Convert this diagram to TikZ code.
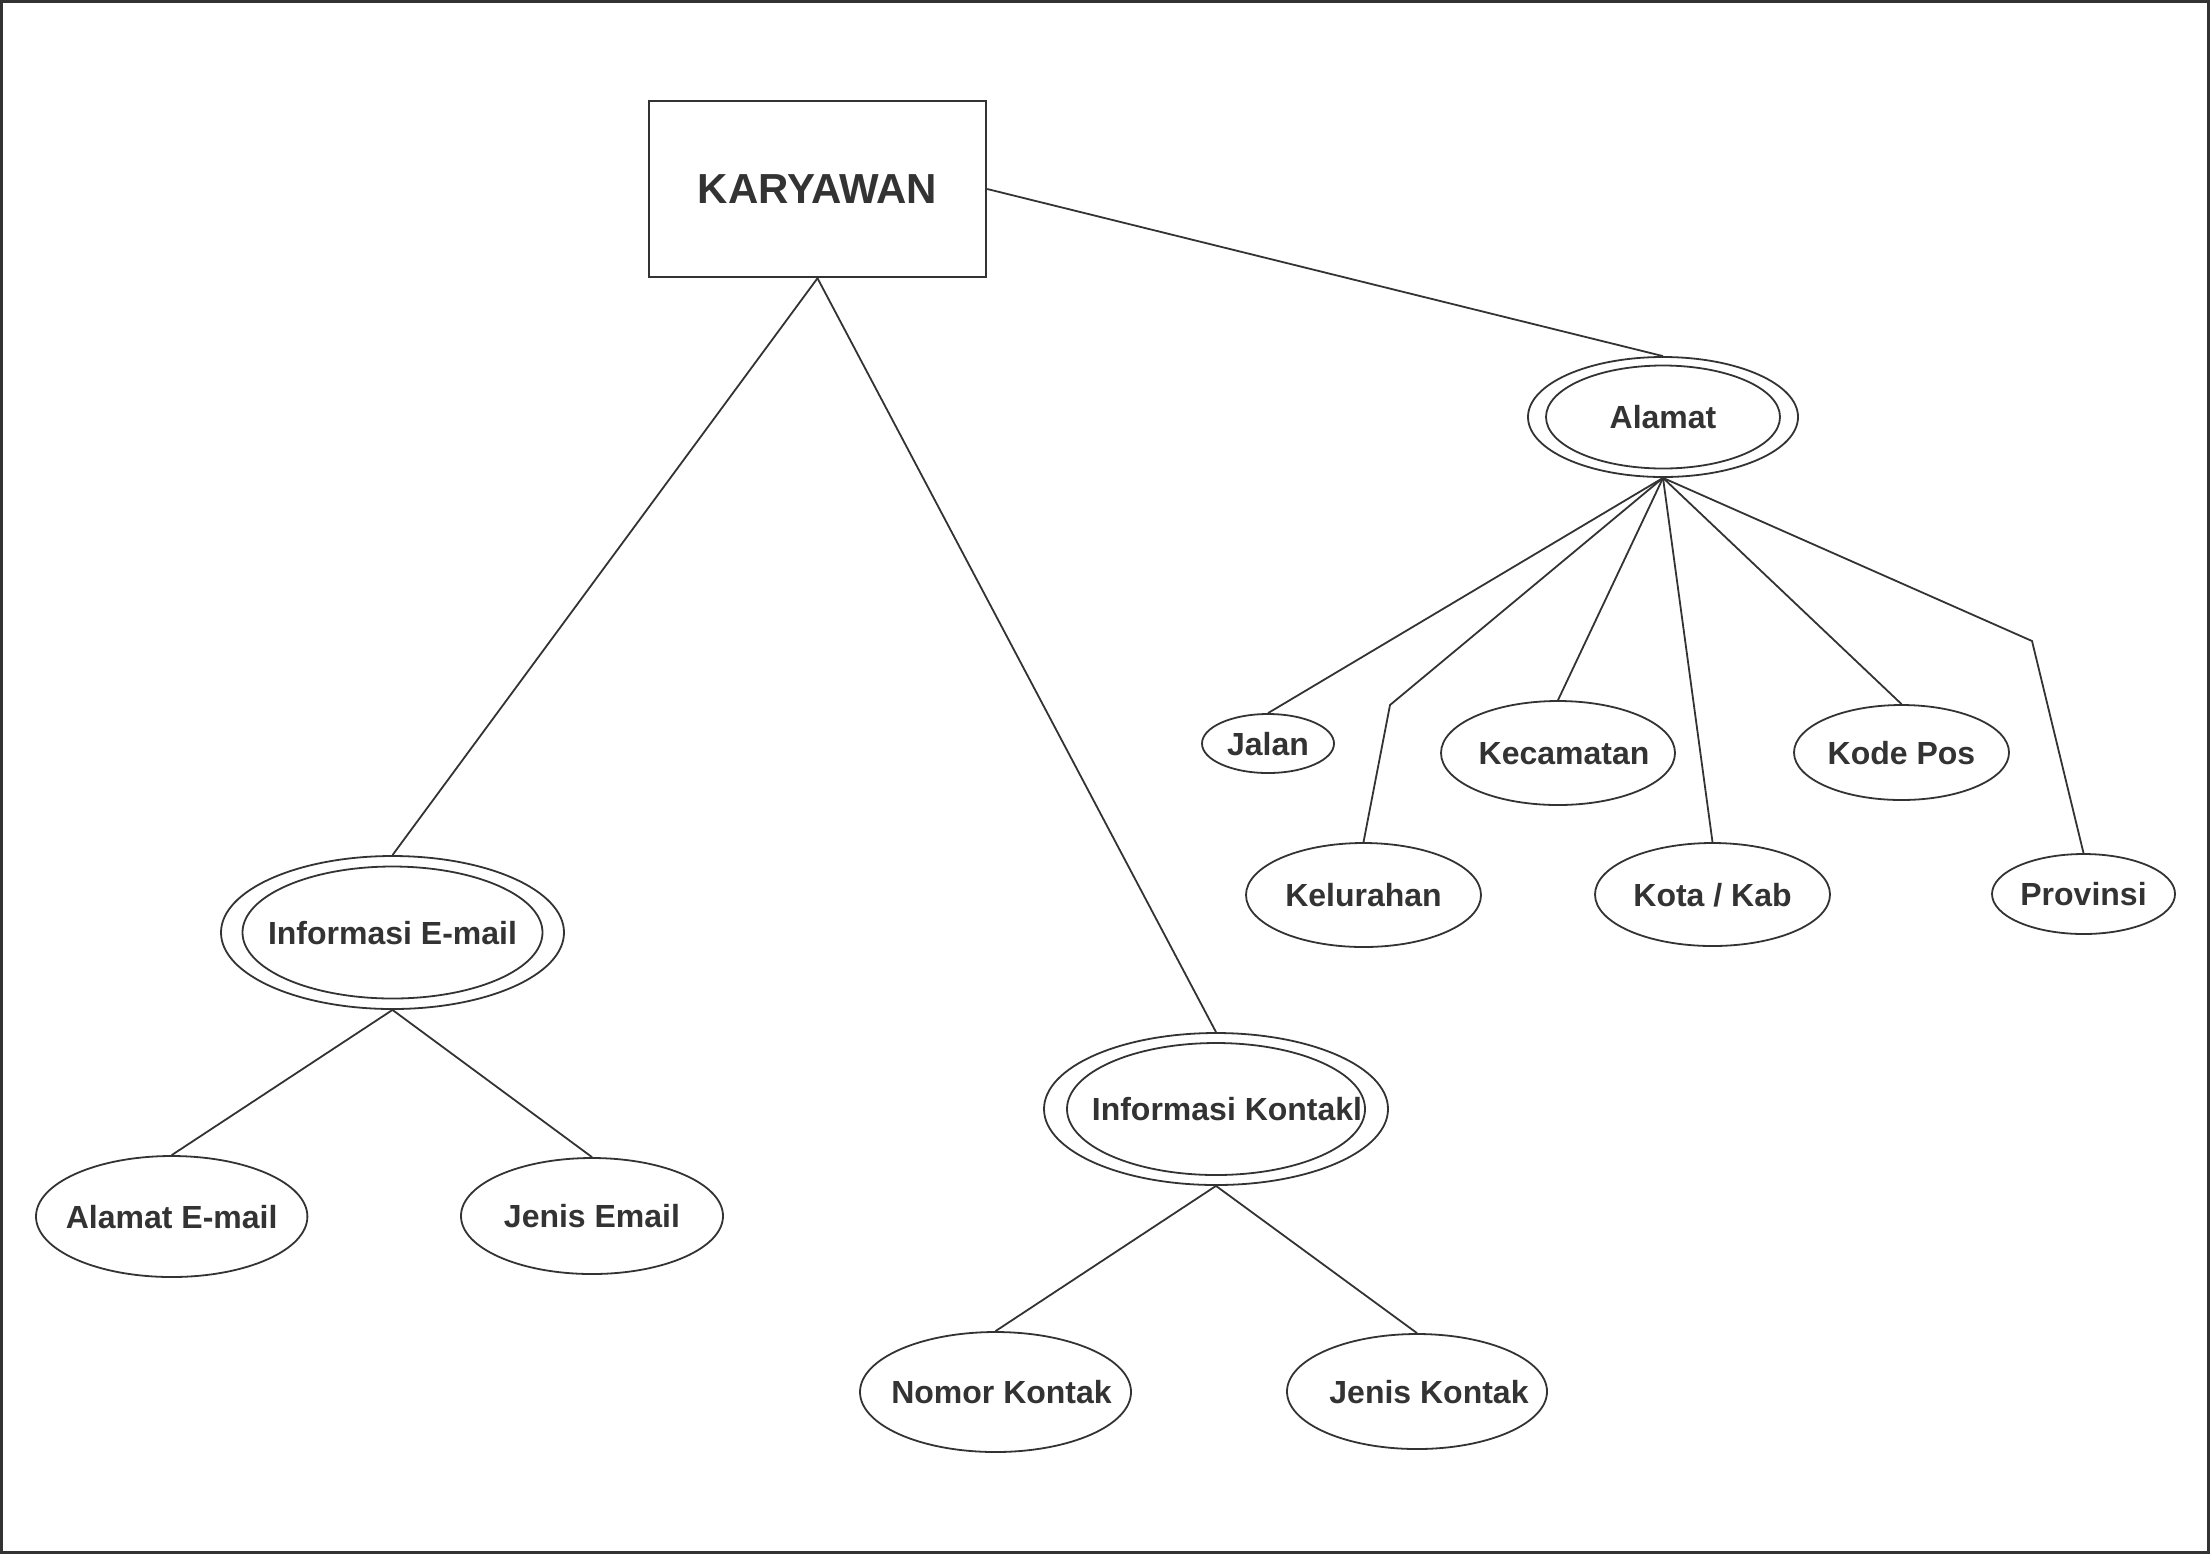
\documentclass[tikz,border=0pt]{standalone}
\usepackage{fontspec}
\setmainfont{Liberation Sans}
\usetikzlibrary{shapes.geometric}
\definecolor{ink}{HTML}{333333}
\newcommand\zlbl[2][0pt]{\makebox[0pt]{\hspace*{#1}#2}}
\begin{document}
\begin{tikzpicture}[x=0.5pt,y=-0.5pt,
  every node/.style={font=\bfseries\fontsize{16}{19}\selectfont, text=ink},
  ent/.style={draw=ink, line width=1.2pt, rectangle, minimum width=168.5pt, minimum height=88pt, inner sep=0pt, font=\bfseries\fontsize{21}{24}\selectfont},
  attr/.style={draw=ink, line width=0.9pt, ellipse, inner sep=0pt, text height=11.5pt, text depth=0pt},
  innerell/.style={draw=ink, line width=0.9pt, ellipse, inner sep=0pt},
  link/.style={draw=ink, line width=0.9pt}
]
\useasboundingbox (0,0) rectangle (2210,1554);
\draw[ink, line width=1.3pt] (1.5,1.5) rectangle (2208.5,1552.5);

% entity
\node[ent] (kar) at (817.5,189) {KARYAWAN};

% multivalued / composite attributes
\node[attr, minimum width=135pt, minimum height=60pt] (alamat) at (1663,417) {\zlbl{Alamat}};
\node[innerell, minimum width=117pt, minimum height=51.5pt] (alamatin) at (alamat) {};

\node[attr, minimum width=171.5pt, minimum height=76.5pt] (ie) at (392.5,932.5) {\zlbl{Informasi E-mail}};
\node[innerell, minimum width=150pt, minimum height=66pt] (iein) at (ie) {};

\node[attr, minimum width=172pt, minimum height=76pt] (ik) at (1216,1109) {\zlbl[11pt]{Informasi Kontakl}};
\node[innerell, minimum width=149pt, minimum height=66pt] (ikin) at (ik) {};

% Alamat sub-attributes
\node[attr, minimum width=66pt, minimum height=29.5pt] (jalan) at (1268,743.5) {\zlbl{Jalan}};
\node[attr, minimum width=117pt, minimum height=52pt] (kec) at (1558,753) {\zlbl[6pt]{Kecamatan}};
\node[attr, minimum width=117.5pt, minimum height=52pt] (kel) at (1363.5,895) {\zlbl{Kelurahan}};
\node[attr, minimum width=107.5pt, minimum height=47.5pt] (kode) at (1901.5,752.5) {\zlbl{Kode Pos}};
\node[attr, minimum width=117.5pt, minimum height=51.5pt] (kota) at (1712.5,894.5) {\zlbl{Kota / Kab}};
\node[attr, minimum width=91.5pt, minimum height=40pt] (prov) at (2083.5,894) {\zlbl{Provinsi}};

% e-mail attributes
\node[attr, minimum width=135.7pt, minimum height=60.5pt] (ae) at (171.7,1216.5) {\zlbl{Alamat E-mail}};
\node[attr, minimum width=131pt, minimum height=58pt] (je) at (592,1216) {\zlbl{Jenis Email}};

% kontak attributes
\node[attr, minimum width=135.5pt, minimum height=60pt] (nk) at (995.5,1392) {\zlbl[6pt]{Nomor Kontak}};
\node[attr, minimum width=130pt, minimum height=57.5pt] (jk) at (1417,1391.5) {\zlbl[12pt]{Jenis Kontak}};

% bend points
\coordinate (bk) at (1390,705);
\coordinate (bp) at (2032,641);

% connectors
\draw[link] (kar.east) -- (alamat.north);
\draw[link] (kar.south) -- (ie.north);
\draw[link] (kar.south) -- (ik.north);

\draw[link] (alamat.south) -- (jalan.north);
\draw[link] (alamat.south) -- (bk) -- (kel.north);
\draw[link] (alamat.south) -- (kec.north);
\draw[link] (alamat.south) -- (kota.north);
\draw[link] (alamat.south) -- (kode.north);
\draw[link] (alamat.south) -- (bp) -- (prov.north);

\draw[link] (ie.south) -- (ae.north);
\draw[link] (ie.south) -- (je.north);

\draw[link] (ik.south) -- (nk.north);
\draw[link] (ik.south) -- (jk.north);
\end{tikzpicture}
\end{document}
